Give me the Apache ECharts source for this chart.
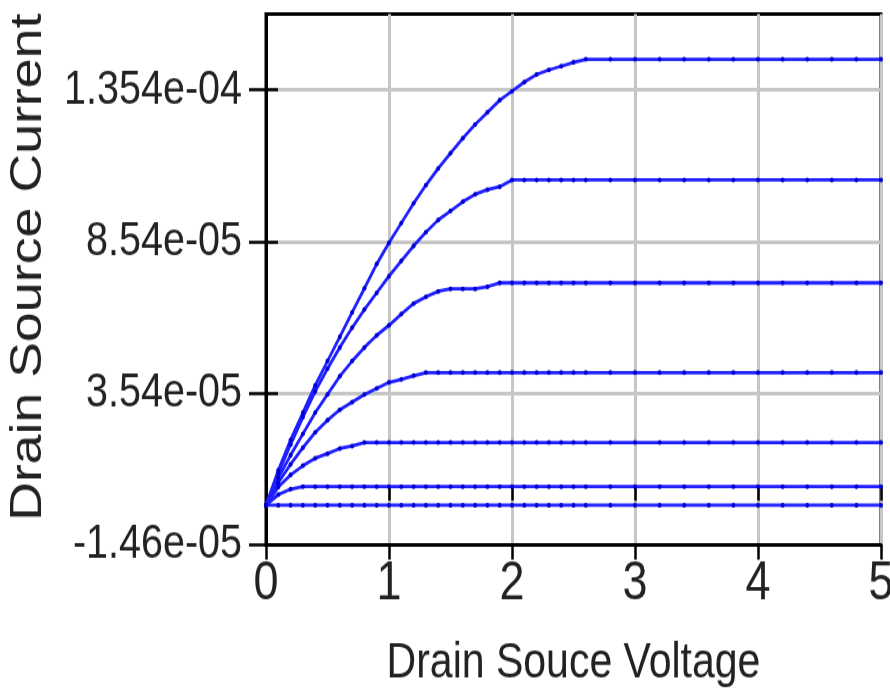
<!DOCTYPE html>
<html>
<head>
<meta charset="utf-8">
<script src="https://cdn.jsdelivr.net/npm/echarts@6/dist/echarts.min.js"></script>
<style>
  html, body { margin: 0; padding: 0; background: #fff; width: 890px; height: 692px; }
  /* the reference is stretched vertically (tall, narrow glyphs): draw at 890x567 and stretch to 692 */
  #chart { width: 890px; height: 567px; transform: scaleY(1.220459); transform-origin: 0 0; }
</style>
</head>
<body>
<div id="chart"></div>
<script>
// drain-source voltage samples (V)
const vds = [0, 0.1, 0.2, 0.3, 0.4, 0.5, 0.6, 0.7, 0.8, 0.9, 1.0, 1.1, 1.2, 1.3, 1.4, 1.5, 1.6, 1.7, 1.8, 1.9,
  2.0, 2.1, 2.2, 2.3, 2.4, 2.5, 2.6, 2.8, 3.0, 3.2, 3.4, 3.6, 3.8, 4.0, 4.2, 4.4, 4.6, 4.8, 5.0]

// drain-source current per curve, in units of 1e-5 A
const UNIT = 1e-5
const ids1 = [-0.15, 1.0, 2.0, 2.9, 3.8, 4.6, 5.4, 6.2, 7.0, 7.8, 8.5, 9.15, 9.8, 10.4, 10.95, 11.45, 11.95, 12.4, 12.8, 13.2,
  13.5, 13.8, 14.05, 14.2, 14.32, 14.45, 14.55, 14.55, 14.55, 14.55, 14.55, 14.55, 14.55, 14.55, 14.55, 14.55, 14.55, 14.55, 14.55]
const ids2 = [-0.15, 0.9, 1.85, 2.75, 3.6, 4.35, 5.05, 5.7, 6.3, 6.85, 7.4, 7.9, 8.4, 8.85, 9.25, 9.55, 9.85, 10.1, 10.25, 10.35,
  10.57, 10.57, 10.57, 10.57, 10.57, 10.57, 10.57, 10.57, 10.57, 10.57, 10.57, 10.57, 10.57, 10.57, 10.57, 10.57, 10.57, 10.57, 10.57]
const ids3 = [-0.15, 0.75, 1.5, 2.2, 2.9, 3.5, 4.1, 4.6, 5.05, 5.45, 5.78, 6.15, 6.5, 6.72, 6.9, 6.98, 6.98, 6.98, 7.05, 7.18,
  7.18, 7.18, 7.18, 7.18, 7.18, 7.18, 7.18, 7.18, 7.18, 7.18, 7.18, 7.18, 7.18, 7.18, 7.18, 7.18, 7.18, 7.18, 7.18]
const ids4 = [-0.15, 0.6, 1.2, 1.75, 2.25, 2.65, 3.0, 3.25, 3.5, 3.7, 3.9, 4.0, 4.12, 4.22, 4.22, 4.22, 4.22, 4.22, 4.22, 4.22,
  4.22, 4.22, 4.22, 4.22, 4.22, 4.22, 4.22, 4.22, 4.22, 4.22, 4.22, 4.22, 4.22, 4.22, 4.22, 4.22, 4.22, 4.22, 4.22]
const ids5 = [-0.15, 0.45, 0.85, 1.15, 1.4, 1.55, 1.72, 1.8, 1.915, 1.915, 1.915, 1.915, 1.915, 1.915, 1.915, 1.915, 1.915, 1.915, 1.915, 1.915,
  1.915, 1.915, 1.915, 1.915, 1.915, 1.915, 1.915, 1.915, 1.915, 1.915, 1.915, 1.915, 1.915, 1.915, 1.915, 1.915, 1.915, 1.915, 1.915]
const ids6 = [-0.15, 0.2, 0.38, 0.465, 0.465, 0.465, 0.465, 0.465, 0.465, 0.465, 0.465, 0.465, 0.465, 0.465, 0.465, 0.465, 0.465, 0.465, 0.465, 0.465,
  0.465, 0.465, 0.465, 0.465, 0.465, 0.465, 0.465, 0.465, 0.465, 0.465, 0.465, 0.465, 0.465, 0.465, 0.465, 0.465, 0.465, 0.465, 0.465]
const ids7 = [-0.15, -0.15, -0.15, -0.15, -0.15, -0.15, -0.15, -0.15, -0.15, -0.15, -0.15, -0.15, -0.15, -0.15, -0.15, -0.15, -0.15, -0.15, -0.15, -0.15,
  -0.15, -0.15, -0.15, -0.15, -0.15, -0.15, -0.15, -0.15, -0.15, -0.15, -0.15, -0.15, -0.15, -0.15, -0.15, -0.15, -0.15, -0.15, -0.15]
const curves = [ids1, ids2, ids3, ids4, ids5, ids6, ids7]

// axis ticks
const xTicks = [0, 1, 2, 3, 4, 5]
const yTicks = [-1.46e-5, 3.54e-5, 8.54e-5, 1.354e-4]
const yTickLabels = ['-1.46e-05', '3.54e-05', '8.54e-05', '1.354e-04']
const yMin = -1.46e-5
const yMax = 1.604e-4
const yStep = 5e-5

const font = "'Liberation Sans', Arial, sans-serif"

const yLabel = (v) => {
  let best = 0
  yTicks.forEach((t, i) => {
    if (Math.abs(t - v) < Math.abs(yTicks[best] - v)) best = i
  })
  return yTickLabels[best]
}

const chart = echarts.init(document.getElementById('chart'), null, { renderer: 'canvas' })

const seriesList = curves.map((ids, n) => ({
  name: 'Vgs' + (n + 1),
  type: 'line',
  xAxisIndex: 0,
  yAxisIndex: 0,
  data: ids.map((v, i) => [vds[i], v * UNIT]),
  symbol: 'circle',
  symbolSize: 4,
  showSymbol: true,
  lineStyle: { color: '#1f1fff', width: 2.8 },
  itemStyle: { color: '#0000d0' },
  emphasis: { disabled: true },
  z: 3
}))

chart.setOption({
  animation: false,
  backgroundColor: '#fff',
  grid: {
    left: 266,
    right: 9,
    top: 11.5,
    bottom: 120.5,
    show: true,
    borderColor: '#000',
    borderWidth: 3,
    containLabel: false,
    outerBoundsMode: 'none'
  },
  xAxis: [
    {
      type: 'value',
      min: 0,
      max: 5,
      interval: 1,
      position: 'bottom',
      name: 'Drain Souce Voltage',
      nameLocation: 'middle',
      nameGap: 77,
      nameTextStyle: { fontFamily: font, fontSize: 41, color: '#222' },
      axisLine: { show: true, onZero: false, lineStyle: { color: '#000', width: 3 } },
      axisTick: { show: true, inside: false, length: 12, lineStyle: { color: '#000', width: 2.5 } },
      axisLabel: {
        fontFamily: font,
        fontSize: 45,
        color: '#222',
        margin: 10,
        formatter: (v) => String(xTicks[Math.round(v)])
      },
      splitLine: { show: true, lineStyle: { color: '#c6c6c6', width: 3 } }
    },
    {
      type: 'value',
      min: 0,
      max: 5,
      interval: 1,
      position: 'bottom',
      axisLine: { show: false },
      axisTick: { show: true, inside: true, length: 12, lineStyle: { color: '#000', width: 2.5 } },
      axisLabel: { show: false },
      splitLine: { show: false }
    }
  ],
  yAxis: [
    {
      type: 'value',
      min: yMin,
      max: yMax,
      interval: yStep,
      position: 'left',
      name: 'Drain Source Current',
      nameLocation: 'middle',
      nameRotate: 90,
      nameGap: 215,
      nameTextStyle: { fontFamily: font, fontSize: 44, color: '#222', padding: [0, 0, 0, 20] },
      axisLine: { show: true, onZero: false, lineStyle: { color: '#000', width: 3 } },
      axisTick: { show: true, inside: false, length: 17, customValues: yTicks, lineStyle: { color: '#000', width: 2.5 } },
      axisLabel: {
        fontFamily: font,
        fontSize: 39.5,
        color: '#222',
        margin: 24,
        customValues: yTicks,
        formatter: yLabel
      },
      splitLine: { show: true, lineStyle: { color: '#c6c6c6', width: 3 } }
    },
    {
      type: 'value',
      min: yMin,
      max: yMax,
      interval: yStep,
      position: 'left',
      axisLine: { show: false },
      axisTick: { show: true, inside: true, length: 12, customValues: yTicks, lineStyle: { color: '#000', width: 2.5 } },
      axisLabel: { show: false },
      splitLine: { show: false }
    }
  ],
  series: seriesList
})
</script>
</body>
</html>
